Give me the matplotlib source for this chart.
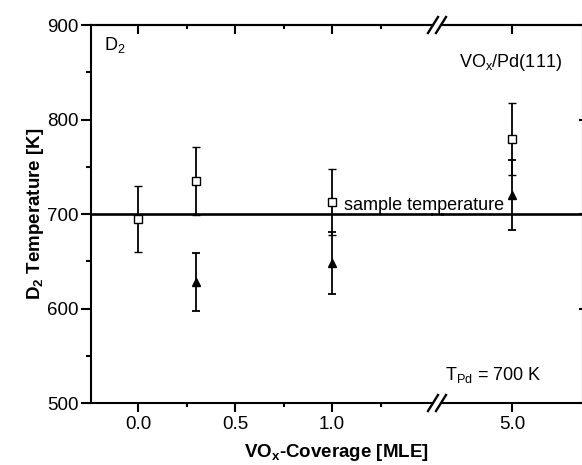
import numpy as np
import matplotlib
matplotlib.use('Agg')
import matplotlib.pyplot as plt
from matplotlib.lines import Line2D

plt.rcParams['font.family'] = ['Liberation Sans', 'DejaVu Sans']
plt.rcParams['mathtext.fontset'] = 'custom'
plt.rcParams['mathtext.rm'] = 'Liberation Sans'
plt.rcParams['mathtext.bf'] = 'Liberation Sans:bold'
plt.rcParams['mathtext.default'] = 'regular'

# ─────────────────────────────────────────────
# DONNÉES
# ─────────────────────────────────────────────
cov_sq = [0.0, 0.3, 1.0, 5.0]          # VOx coverage [MLE], carrés ouverts
temp_sq = [695, 735, 713, 779]
err_sq = [35, 36, 35, 38]

cov_tri = [0.3, 1.0, 5.0]              # triangles pleins
temp_tri = [628, 648, 720]
err_tri = [31, 33, 37]

sample_T = 700
xticks_left = [0.0, 0.5, 1.0]
xminor_left = [0.25, 0.75, 1.25]
xticks_right = [5.0]
yticks = [500, 600, 700, 800, 900]
yminor = [550, 650, 750, 850]

W, H = 582, 465
fig = plt.figure(figsize=(W / 100, H / 100), dpi=100)
FS = 13.5
LW = 1.5   # épaisseur axes / ticks

def px(x0, y0, x1, y1):
    # rectangle en pixels -> coordonnées figure
    return [x0 / W, 1 - y1 / H, (x1 - x0) / W, (y1 - y0) / H]

scale = 194.0            # pixels par unité de couverture
x0_px, x5_px = 138, 512  # position des ticks 0.0 et 5.0
L, B, T, R = 91, 403, 25, 583
gl, gr = 433, 441        # bords de la coupure

ax1 = fig.add_axes(px(L, T, gl, B))
ax2 = fig.add_axes(px(gr, T, R, B), sharey=ax1)

ax1.set_xlim((L - x0_px) / scale, (gl - x0_px) / scale)
ax2.set_xlim(5.0 - (x5_px - gr) / scale, 5.0 + (R - x5_px) / scale)
ax1.set_ylim(500, 900)

for ax in (ax1, ax2):
    lo, hi = ax.get_xlim()
    msk = [i for i, c in enumerate(cov_sq) if lo <= c <= hi]
    ax.errorbar([cov_sq[i] for i in msk], [temp_sq[i] for i in msk],
                yerr=[err_sq[i] for i in msk], fmt='s', ms=5.5, mfc='white',
                mec='black', mew=1.0, ecolor='black', elinewidth=1.3,
                capsize=3, capthick=1.3, zorder=3)
    mtk = [i for i, c in enumerate(cov_tri) if lo <= c <= hi]
    ax.errorbar([cov_tri[i] for i in mtk], [temp_tri[i] for i in mtk],
                yerr=[err_tri[i] for i in mtk], fmt='^', ms=6, mfc='black',
                mec='black', ecolor='black', elinewidth=1.3,
                capsize=3, capthick=1.3, zorder=3)
    ax.axhline(sample_T, color='black', lw=1.9, zorder=2)
    for s in ax.spines.values():
        s.set_linewidth(LW)
    ax.tick_params(labelsize=FS, width=LW)

# ligne de température continue à travers la coupure
yl = 1 - (T + (B - T) * (900 - sample_T) / 400) / H
fig.add_artist(Line2D([(gl - 1) / W, (gr + 1) / W], [yl, yl], color='black', lw=1.9))

# axe gauche
ax1.spines['right'].set_visible(False)
ax1.set_xticks(xticks_left)
ax1.set_xticklabels(['0.0', '0.5', '1.0'])
ax1.set_xticks(xminor_left, minor=True)
ax1.set_yticks(yticks)
ax1.set_yticks(yminor, minor=True)
ax1.tick_params(axis='y', which='major', direction='out', length=7, pad=2)
ax1.tick_params(axis='y', which='minor', direction='out', length=3.5, width=LW)
ax1.tick_params(axis='x', which='major', direction='out', length=6.5, pad=3)
ax1.tick_params(axis='x', which='minor', direction='out', length=3, width=LW)

# ticks du haut vers l'intérieur
top1 = ax1.twiny()
top1.set_xlim(ax1.get_xlim())
top1.set_xticks(xticks_left)
top1.set_xticks(xminor_left, minor=True)
top1.tick_params(which='major', direction='in', length=6.5, width=LW, labeltop=False)
top1.tick_params(which='minor', direction='in', length=3, width=LW)
for s in top1.spines.values():
    s.set_visible(False)
top1.spines['top'].set_visible(True)
top1.spines['top'].set_linewidth(LW)

# axe droit
ax2.spines['left'].set_visible(False)
ax2.tick_params(axis='y', which='both', left=False, labelleft=False,
                right=True, direction='in', length=3, width=LW)
ax2.tick_params(axis='y', which='minor', right=False)
ax2.set_xticks(xticks_right)
ax2.set_xticklabels(['5.0'])
ax2.tick_params(axis='x', which='major', direction='out', length=6.5, pad=3)
top2 = ax2.twiny()
top2.set_xlim(ax2.get_xlim())
top2.set_xticks(xticks_right)
top2.tick_params(direction='in', length=6.5, width=LW, labeltop=False)
for s in top2.spines.values():
    s.set_visible(False)
top2.spines['top'].set_visible(True)
top2.spines['top'].set_linewidth(LW)

# marques de coupure //
for yb in (T, B):
    for xc in (gl, gr):
        fig.add_artist(Line2D([(xc - 5) / W, (xc + 5) / W],
                              [1 - (yb + 8) / H, 1 - (yb - 8) / H],
                              color='black', lw=1.7))

# textes
fig.text(104 / W, 1 - 50 / H, 'D$_2$', fontsize=FS - 0.5, va='baseline')
fig.text(562 / W, 1 - 67 / H, 'VO$_x$/Pd(111)', fontsize=FS - 0.5, ha='right',
         va='baseline')
fig.text(344 / W, 1 - 210 / H, 'sample temperature', fontsize=FS - 0.5,
         va='baseline')
fig.text(445 / W, 1 - 380 / H, 'T$_{Pd}$ = 700 K', fontsize=FS - 0.5,
         va='baseline')
fig.text(36 / W, 1 - 214 / H, 'D$_2$ Temperature [K]', fontsize=FS,
         fontweight='bold', rotation=90, ha='center', va='center')
fig.text(336 / W, 1 - 452 / H, 'VO$_x$-Coverage [MLE]', fontsize=FS,
         fontweight='bold', ha='center', va='center')

plt.savefig('out.png', dpi=100)
